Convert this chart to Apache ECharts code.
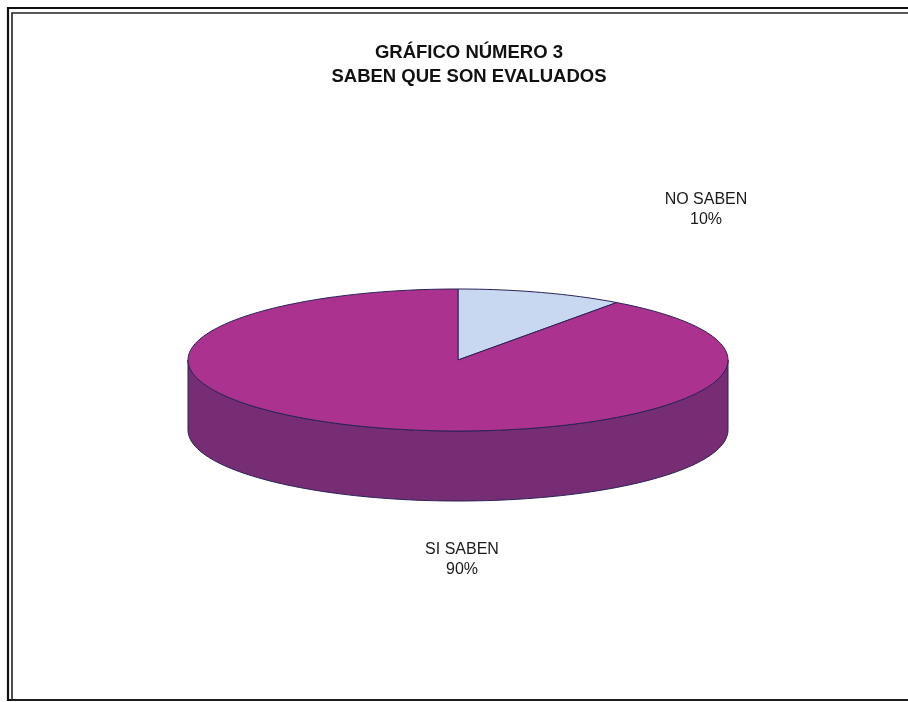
<!DOCTYPE html>
<html>
<head>
<meta charset="utf-8">
<script src="https://cdn.jsdelivr.net/npm/echarts@6/dist/echarts.min.js"></script>
<style>
  html, body { margin: 0; padding: 0; background: #ffffff; }
  #chart { width: 908px; height: 702px; }
</style>
</head>
<body>
<div id="chart"></div>
<script>
// Survey answers: do they know they are evaluated?
const categories = ['NO SABEN', 'SI SABEN'];
const values = [10, 90];
const titleLines = ['GRÁFICO NÚMERO 3', 'SABEN QUE SON EVALUADOS'];

// Drawing style for the tilted (3D-look) pie
const pieLayout = { cx: 458, cy: 360, rx: 270, ry: 71, depth: 70 };
const topColors = ['#c9d8f1', '#ab338f'];
const sideColors = ['#8c9ab8', '#772d74'];
const edgeColor = '#2b2256';
// Label anchors, relative to the pie centre
const labelOffsets = [[248, -150], [4, 200]];

const total = values.reduce((a, b) => a + b, 0);

function pt(theta, dy) {
  // theta: degrees clockwise from 12 o'clock
  const r = theta * Math.PI / 180;
  return [pieLayout.cx + pieLayout.rx * Math.sin(r),
          pieLayout.cy - pieLayout.ry * Math.cos(r) + (dy || 0)];
}

function arcPoints(a0, a1, dy) {
  const pts = [];
  const n = Math.max(2, Math.ceil(Math.abs(a1 - a0) / 1.5));
  for (let i = 0; i <= n; i++) pts.push(pt(a0 + (a1 - a0) * i / n, dy));
  return pts;
}

function renderItem(params, api) {
  const i = params.dataIndex;
  let start = 0;
  for (let k = 0; k < i; k++) start += values[k];
  const a0 = start / total * 360;
  const a1 = (start + api.value(0)) / total * 360;
  const children = [];

  // front wall: only the part between 3 o'clock and 9 o'clock faces the viewer
  const w0 = Math.max(a0, 90), w1 = Math.min(a1, 270);
  if (w1 > w0) {
    const topArc = arcPoints(w0, w1, 0);
    const botArc = arcPoints(w1, w0, pieLayout.depth);
    children.push({
      type: 'polygon',
      z2: 1,
      shape: { points: topArc.concat(botArc) },
      style: { fill: sideColors[i], stroke: edgeColor, lineWidth: 1 }
    });
  }

  // top face of the slice
  children.push({
    type: 'polygon',
    z2: 10,
    shape: { points: [[pieLayout.cx, pieLayout.cy]].concat(arcPoints(a0, a1, 0)) },
    style: { fill: topColors[i], stroke: edgeColor, lineWidth: 1 }
  });

  // category label with its share
  const pct = Math.round(api.value(0) / total * 100);
  children.push({
    type: 'text',
    z2: 20,
    x: pieLayout.cx + labelOffsets[i][0],
    y: pieLayout.cy + labelOffsets[i][1],
    style: {
      text: categories[i] + '\n' + pct + '%',
      fill: '#1a1a1a',
      font: '16px "Liberation Sans", Arial, sans-serif',
      lineHeight: 20,
      align: 'center',
      verticalAlign: 'middle'
    }
  });

  return { type: 'group', children: children };
}

const chart = echarts.init(document.getElementById('chart'), null, { renderer: 'canvas' });
chart.setOption({
  backgroundColor: '#ffffff',
  animation: false,
  title: {
    text: titleLines.join('\n'),
    left: 464,
    textAlign: 'center',
    top: 36,
    textStyle: {
      fontFamily: '"Liberation Sans", Arial, sans-serif',
      fontWeight: 'bold',
      fontSize: 18.5,
      lineHeight: 24,
      color: '#111111'
    }
  },
  graphic: [
    // double frame around the chart area
    { type: 'rect', shape: { x: 8, y: 8, width: 960, height: 692 },
      style: { fill: 'none', stroke: '#111111', lineWidth: 2.2 } },
    { type: 'rect', shape: { x: 12, y: 13, width: 960, height: 687 },
      style: { fill: 'none', stroke: '#222222', lineWidth: 1.6 } }
  ],
  series: [{
    type: 'custom',
    coordinateSystem: 'none',
    renderItem: renderItem,
    data: values.map((v, i) => ({ name: categories[i], value: [v] }))
  }]
});
</script>
</body>
</html>
